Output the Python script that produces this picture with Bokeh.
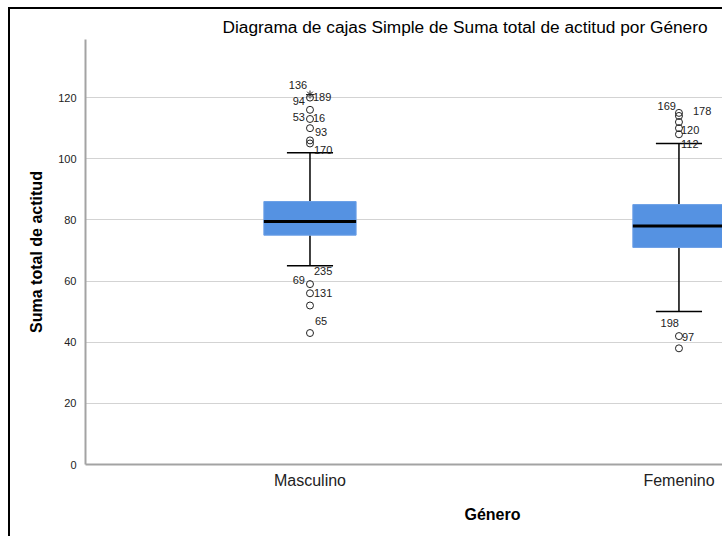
from bokeh.plotting import figure
from bokeh.models import Range1d, FixedTicker, Title, ColumnDataSource, Div
from bokeh.layouts import column, row
from bokeh.core.properties import value
from bokeh.embed import file_html
from bokeh.resources import INLINE

# ---------------- data ----------------
categories = ["Masculino", "Femenino"]
q1 = [75, 71]
median = [79.5, 78]
q3 = [86, 85]
whisker_low = [65, 50]
whisker_high = [102, 105]

male_outliers = [120, 116, 113, 110, 106, 105, 59, 56, 52, 43]
male_extremes = [121]
female_outliers = [115, 114, 112, 110, 108, 42, 38]
female_extremes = []

# case labels attached to outlier values
label_cat = ["Masculino"] * 11 + ["Femenino"] * 6
label_val = [121, 120, 120, 113, 113, 110, 105, 59, 59, 56, 43,
             115, 114, 108, 108, 42, 42]
label_id = ["136", "94", "189", "53", "16", "93", "170", "235", "69", "131", "65",
            "169", "178", "120", "112", "198", "97"]

y_ticks = [0, 20, 40, 60, 80, 100, 120]

title_text = "Diagrama de cajas Simple de Suma total de actitud por Género"
x_title = "Género"
y_title = "Suma total de actitud"

# ---------------- styles ----------------
FONT = "Liberation Sans"
BOX_W = 0.25
CAP_W = 0.125
# label placement offsets in pixels (dx, dy, align)
LABEL_STYLE = {
    "136": (-12, -10, "center"), "94": (-5, 3, "right"), "189": (3, -1, "left"),
    "53": (-5, -2, "right"), "16": (3, -1, "left"), "93": (5, 4, "left"),
    "170": (4, 7, "left"), "235": (4, -13, "left"), "69": (-5, -4, "right"),
    "131": (4, 0, "left"), "65": (5, -12, "left"),
    "169": (-3, -7, "right"), "178": (14, -5, "left"), "120": (2, -4, "left"),
    "112": (2, 10, "left"), "198": (0, -13, "right"), "97": (3, 1, "left"),
}

pos = {c: i + 1 for i, c in enumerate(categories)}
xs = [pos[c] for c in categories]

p = figure(width=712, height=527, output_backend="svg", toolbar_location=None,
           x_range=Range1d(0.3916, 2.118), y_range=Range1d(0, 139),
           min_border_left=75, min_border_right=0, min_border_top=30,
           min_border_bottom=72)
p.outline_line_color = None
p.background_fill_color = "white"
p.border_fill_color = "white"

p.title.text = title_text
p.title.align = "left"
p.title.offset = 137
p.title.text_font = FONT
p.title.text_font_size = "17.3px"
p.title.text_font_style = "normal"
p.title.text_color = "black"
p.title.standoff = 6

p.add_layout(Title(text=x_title, align="left", offset=379, text_font=FONT,
                   text_font_size="16px", text_font_style="bold",
                   text_color="black", standoff=24), "below")

# axes
p.xaxis.ticker = FixedTicker(ticks=xs)
p.xaxis.major_label_overrides = {pos[c]: c for c in categories}
p.yaxis.ticker = FixedTicker(ticks=y_ticks)
for ax in (p.xaxis, p.yaxis):
    ax.axis_line_color = "#a3a3a3"
    ax.axis_line_width = 2
    ax.major_tick_line_color = None
    ax.minor_tick_line_color = None
    ax.major_tick_out = 0
    ax.major_tick_in = 0
    ax.major_label_text_font = FONT
    ax.major_label_text_color = "#222222"
p.xaxis.major_label_text_font_size = "16px"
p.xaxis.major_label_standoff = 7
p.yaxis.major_label_text_font_size = "11px"
p.yaxis.major_label_standoff = 9
p.yaxis.axis_label = y_title
p.yaxis.axis_label_text_font = FONT
p.yaxis.axis_label_text_font_size = "16px"
p.yaxis.axis_label_text_font_style = "bold"
p.yaxis.axis_label_text_color = "black"
p.yaxis.axis_label_standoff = 10

p.xgrid.visible = False
p.ygrid.ticker = FixedTicker(ticks=y_ticks[1:])
p.ygrid.grid_line_color = "#d3d3d3"
p.ygrid.grid_line_width = 1

# whiskers
p.segment(x0=xs, x1=xs, y0=q3, y1=whisker_high, line_color="black", line_width=1.5)
p.segment(x0=xs, x1=xs, y0=q1, y1=whisker_low, line_color="black", line_width=1.5)
cap_x0 = [x - CAP_W / 2 for x in xs]
cap_x1 = [x + CAP_W / 2 for x in xs]
p.segment(x0=cap_x0, x1=cap_x1, y0=whisker_high, y1=whisker_high, line_color="black", line_width=1.5)
p.segment(x0=cap_x0, x1=cap_x1, y0=whisker_low, y1=whisker_low, line_color="black", line_width=1.5)

# boxes
p.vbar(x=xs, width=BOX_W, bottom=q1, top=q3, fill_color="#5592e2",
       line_color="#6b9fe6", line_width=1)
med_x0 = [x - BOX_W / 2 for x in xs]
med_x1 = [x + BOX_W / 2 for x in xs]
p.segment(x0=med_x0, x1=med_x1, y0=median, y1=median, line_color="black", line_width=3)

# outliers
ox = [pos["Masculino"]] * len(male_outliers) + [pos["Femenino"]] * len(female_outliers)
oy = male_outliers + female_outliers
p.scatter(x=ox, y=oy, marker="circle", size=7, fill_alpha=0,
          line_color="#222222", line_width=1)
ex = [pos["Masculino"]] * len(male_extremes) + [pos["Femenino"]] * len(female_extremes)
ey = male_extremes + female_extremes
p.scatter(x=ex, y=ey, marker="asterisk", size=8, line_color="#222222", line_width=1)

# labels
src = ColumnDataSource(dict(
    x=[pos[c] for c in label_cat], y=label_val, text=label_id,
    dx=[LABEL_STYLE[i][0] for i in label_id],
    dy=[LABEL_STYLE[i][1] for i in label_id],
    align=[LABEL_STYLE[i][2] for i in label_id],
))
p.text(x="x", y="y", text="text", source=src, x_offset="dx", y_offset="dy",
       text_align="align", text_baseline="middle", text_font=value(FONT),
       text_font_size="11px", text_color="#222222")

top_bar = Div(width=714, height=2, margin=0, styles={"background-color": "black"})
left_bar = Div(width=2, height=527, margin=0, styles={"background-color": "black"})
layout = column(top_bar, row(left_bar, p, spacing=0), spacing=0, margin=(7, 0, 0, 8))

open("out.html", "w").write(file_html(layout, INLINE))
